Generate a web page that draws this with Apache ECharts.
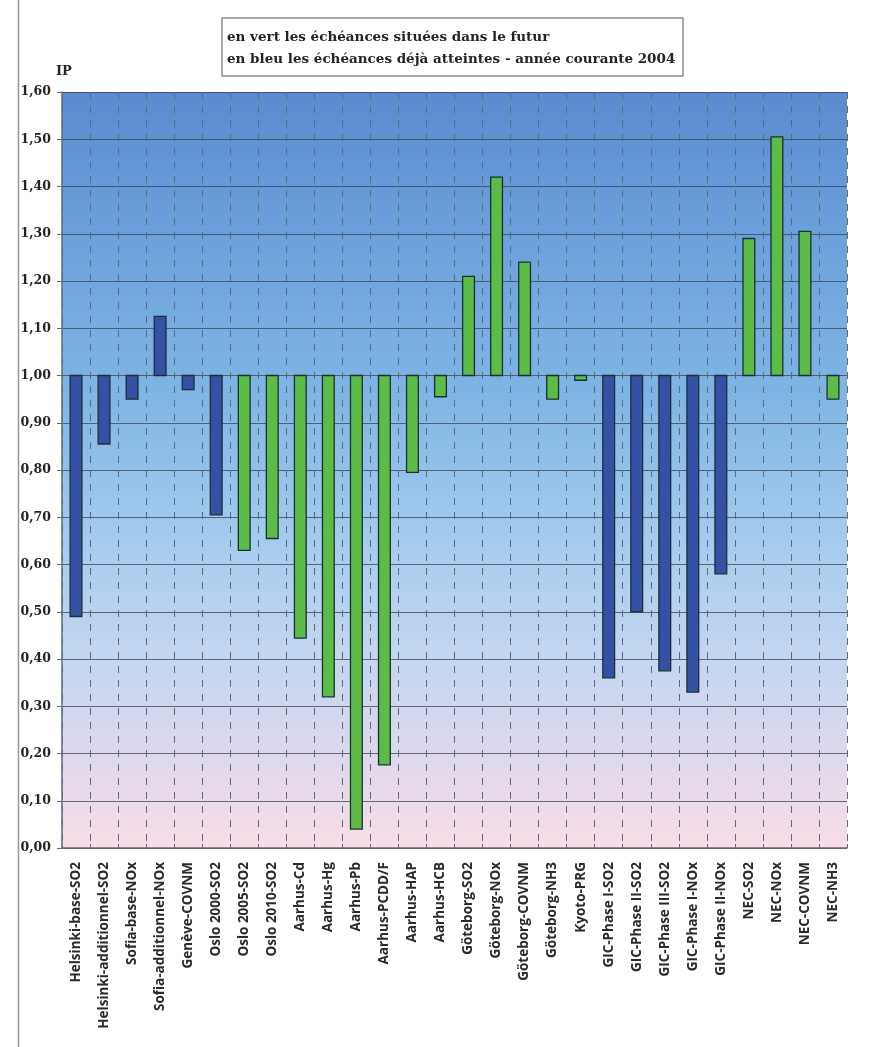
<!DOCTYPE html>
<html>
<head>
<meta charset="utf-8">
<script src="https://cdn.jsdelivr.net/npm/echarts@6/dist/echarts.min.js"></script>
<style>
  html, body { margin: 0; padding: 0; background: #ffffff; }
  #chart { width: 869px; height: 1047px; }
</style>
</head>
<body>
<div id="chart"></div>
<script>
// Protocoles : indice de performance (IP) par échéance
const categories = [
  'Helsinki-base-SO2', 'Helsinki-additionnel-SO2', 'Sofia-base-NOx', 'Sofia-additionnel-NOx',
  'Genève-COVNM', 'Oslo 2000-SO2', 'Oslo 2005-SO2', 'Oslo 2010-SO2',
  'Aarhus-Cd', 'Aarhus-Hg', 'Aarhus-Pb', 'Aarhus-PCDD/F', 'Aarhus-HAP', 'Aarhus-HCB',
  'Göteborg-SO2', 'Göteborg-NOx', 'Göteborg-COVNM', 'Göteborg-NH3', 'Kyoto-PRG',
  'GIC-Phase I-SO2', 'GIC-Phase II-SO2', 'GIC-Phase III-SO2', 'GIC-Phase I-NOx', 'GIC-Phase II-NOx',
  'NEC-SO2', 'NEC-NOx', 'NEC-COVNM', 'NEC-NH3'
];

// valeur de l'indice IP pour chaque échéance
const ipValues = [
  0.49, 0.855, 0.95, 1.125,
  0.97, 0.705, 0.63, 0.655,
  0.444, 0.32, 0.04, 0.176, 0.795, 0.955,
  1.21, 1.42, 1.24, 0.95, 0.99,
  0.36, 0.50, 0.375, 0.33, 0.58,
  1.29, 1.505, 1.305, 0.95
];

// 'A' = échéance déjà atteinte (bleu), 'F' = échéance future (vert)
const status = [
  'A', 'A', 'A', 'A',
  'A', 'A', 'F', 'F',
  'F', 'F', 'F', 'F', 'F', 'F',
  'F', 'F', 'F', 'F', 'F',
  'A', 'A', 'A', 'A', 'A',
  'F', 'F', 'F', 'F'
];

const yTicks = { min: 0, max: 1.6, interval: 0.1 };
const baseline = 1.0;

const colorReached = '#3551a6';
const colorFuture = '#5cbc45';
const barStroke = '#1c2f36';

const chart = echarts.init(document.getElementById('chart'), null, { renderer: 'canvas' });

const seriesData = ipValues.map((v, i) => [i, v]);

const option = {
  backgroundColor: '#ffffff',
  animation: false,
  title: {
    text: 'en vert les échéances situées dans le futur\nen bleu les échéances déjà atteintes - année courante 2004',
    left: 222,
    top: 18,
    padding: [8, 8, 6, 5],
    borderColor: '#8a8f96',
    borderWidth: 1.5,
    backgroundColor: '#ffffff',
    textStyle: {
      fontFamily: 'DejaVu Serif',
      fontWeight: 'bold',
      fontSize: 13.5,
      color: '#2a2320',
      lineHeight: 22
    }
  },
  graphic: [
    {
      type: 'line',
      shape: { x1: 18.5, y1: 0, x2: 18.5, y2: 1047 },
      style: { stroke: '#8d9aa6', lineWidth: 1.5 },
      silent: true
    }
  ],
  grid: {
    left: 62,
    right: 22,
    top: 92,
    bottom: 199,
    show: true,
    borderWidth: 0,
    backgroundColor: new echarts.graphic.LinearGradient(0, 0, 0, 1, [
      { offset: 0.0, color: '#5a8bcf' },
      { offset: 0.2, color: '#6ca2dc' },
      { offset: 0.4, color: '#7fb5e4' },
      { offset: 0.6, color: '#a6ccef' },
      { offset: 0.75, color: '#c4d6f0' },
      { offset: 0.87, color: '#dcd8ee' },
      { offset: 1.0, color: '#f9dde6' }
    ])
  },
  xAxis: {
    type: 'category',
    data: categories,
    boundaryGap: true,
    axisLine: { show: true, lineStyle: { color: '#5d6d7a', width: 1.5 } },
    axisTick: { show: true, inside: true, length: 4, interval: 0, lineStyle: { color: '#5d6d7a' } },
    splitLine: {
      show: true,
      interval: 0,
      lineStyle: { color: '#5b6b78', width: 1, type: [7, 7] }
    },
    axisLabel: {
      interval: 0,
      rotate: 90,
      margin: 14,
      fontFamily: 'Open Sans',
      fontWeight: 'bold',
      fontSize: 13.5,
      color: '#2e2a28'
    }
  },
  yAxis: {
    type: 'value',
    min: yTicks.min,
    max: yTicks.max,
    interval: yTicks.interval,
    name: 'IP',
    nameLocation: 'end',
    nameGap: 14,
    nameTextStyle: {
      fontFamily: 'DejaVu Serif',
      fontWeight: 'bold',
      fontSize: 13,
      color: '#2a2320',
      align: 'left',
      padding: [0, 0, 0, -6]
    },
    axisLine: { show: true, lineStyle: { color: '#5d6d7a', width: 1.5 } },
    axisTick: { show: true, inside: false, length: 5, lineStyle: { color: '#5d6d7a' } },
    splitLine: { show: true, lineStyle: { color: 'rgba(55,65,75,0.75)', width: 1 } },
    axisLabel: {
      margin: 11,
      fontFamily: 'DejaVu Serif',
      fontWeight: 'bold',
      fontSize: 12.5,
      color: '#2a2320',
      formatter: v => v.toFixed(2).replace('.', ',')
    }
  },
  series: [
    {
      type: 'custom',
      data: seriesData,
      encode: { x: 0, y: 1 },
      renderItem: function (params, api) {
        const i = api.value(0);
        const v = api.value(1);
        const pBase = api.coord([i, baseline]);
        const pVal = api.coord([i, v]);
        const w = api.size([1, 0])[0] * 0.42;
        const y0 = Math.min(pBase[1], pVal[1]);
        const h = Math.abs(pVal[1] - pBase[1]);
        return {
          type: 'rect',
          shape: { x: pBase[0] - w / 2, y: y0, width: w, height: h },
          style: {
            fill: status[i] === 'A' ? colorReached : colorFuture,
            stroke: barStroke,
            lineWidth: 1.3
          }
        };
      }
    }
  ]
};

chart.setOption(option);
</script>
</body>
</html>
